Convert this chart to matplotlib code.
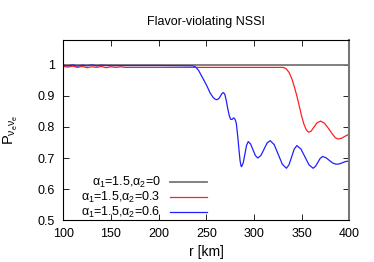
import numpy as np
import matplotlib.pyplot as plt

plt.rcParams['font.family'] = ['Liberation Sans', 'DejaVu Sans']
plt.rcParams['mathtext.fontset'] = 'custom'
plt.rcParams['mathtext.rm'] = 'Liberation Sans'
plt.rcParams['mathtext.it'] = 'Liberation Sans'

# alpha2 = 0
r_k = [100, 400]
p_k = [1.0, 1.0]

# alpha2 = 0.3
r_r = [100, 105, 110, 115, 120, 125, 130, 135, 140, 145, 150, 155, 160, 165, 170, 200,
       250, 300, 331, 334, 337, 340, 342.5, 345, 347.5, 350, 352.5, 355, 357.5, 360,
       363, 366, 370, 374, 378, 382, 385.5, 388.5, 392, 396, 400]
p_r = [0.995, 0.993, 0.996, 0.992, 0.995, 0.991, 0.994, 0.992, 0.995, 0.991, 0.994, 0.992,
       0.994, 0.992, 0.992, 0.992, 0.992, 0.992, 0.992, 0.987, 0.975, 0.953, 0.928, 0.900,
       0.868, 0.835, 0.808, 0.790, 0.783, 0.787, 0.800, 0.813, 0.819, 0.812, 0.796, 0.778,
       0.765, 0.761, 0.764, 0.771, 0.777]

# alpha2 = 0.6
r_b = [100, 105, 110, 115, 120, 125, 130, 135, 140, 145, 150, 200, 236, 239, 242, 245,
       248, 251, 254, 257, 259, 261, 263, 265, 266.5, 268, 269.5, 271, 272.5, 274, 275.5,
       277, 278.5, 279.5, 280.5, 281.5, 283, 284.5, 285.5, 286.5, 287,
       288.75, 290.5, 292.25, 294, 296.5, 299, 301.5, 304, 307.25, 310.5, 313.75, 317,
       321.25, 325.5, 329.75, 334, 336.75, 339.5, 342.25, 345, 349.25, 353.5, 357.75, 362,
       364.5, 367, 369.5, 372, 375.5, 379, 382.5, 386, 389.5, 393, 396.5, 400]
p_b = [0.999, 0.997, 1.0, 0.996, 0.999, 0.997, 1.0, 0.997, 0.999, 0.998, 0.998, 0.998,
       0.997, 0.993, 0.982, 0.965, 0.948, 0.930, 0.910, 0.896, 0.890, 0.888, 0.891, 0.900,
       0.908, 0.911, 0.905, 0.885, 0.860, 0.838, 0.825, 0.824, 0.829, 0.828, 0.822, 0.812,
       0.770, 0.720, 0.690, 0.674, 0.672,
       0.684, 0.7125, 0.741, 0.753, 0.745, 0.7265, 0.708, 0.700, 0.708, 0.728, 0.748, 0.756,
       0.743, 0.7115, 0.680, 0.667, 0.678, 0.7035, 0.729, 0.740, 0.729, 0.7035, 0.678, 0.667,
       0.673, 0.686, 0.699, 0.705, 0.701, 0.6925, 0.684, 0.680, 0.681, 0.685, 0.689, 0.690]

fig = plt.figure(figsize=(3.74, 2.62), dpi=100)
ax = fig.add_axes([0.169, 0.160, 0.765, 0.687])

ax.plot(r_k, p_k, color='#777777', lw=1.3, label=r'$\alpha_1$=1.5,$\alpha_2$=0')
ax.plot(r_r, p_r, color='#ff2020', lw=0.9, label=r'$\alpha_1$=1.5,$\alpha_2$=0.3')
ax.plot(r_b, p_b, color='#2020ff', lw=0.9, label=r'$\alpha_1$=1.5,$\alpha_2$=0.6')

ax.set_xlim(100, 400)
ax.set_ylim(0.5, 1.08)
ax.set_xticks(np.arange(100, 401, 50))
ax.set_yticks([0.5, 0.6, 0.7, 0.8, 0.9, 1.0])
ax.set_yticklabels(['0.5', '0.6', '0.7', '0.8', '0.9', '1'])
ax.tick_params(direction='in', top=True, right=True, length=4, width=0.6,
               labelsize=9, pad=6)
for s in ax.spines.values():
    s.set_linewidth(0.8)
ax.spines['right'].set_color('#777777')
ax.spines['right'].set_linewidth(1.5)

ax.set_title('Flavor-violating NSSI', fontsize=9, pad=11)
ax.set_xlabel('r [km]', fontsize=10, labelpad=3)
ax.set_ylabel(r'$\mathrm{P}_{\nu_e\nu_e}$', fontsize=10.5)
ax.yaxis.set_label_coords(-0.15, 0.5)

ax.legend(loc='lower right', bbox_to_anchor=(0.51, -0.015), frameon=False,
          markerfirst=False, fontsize=9, handlelength=2.9, handletextpad=0.8,
          labelspacing=0.0, borderpad=0.2, borderaxespad=0)

fig.savefig('out.png', dpi=100)
